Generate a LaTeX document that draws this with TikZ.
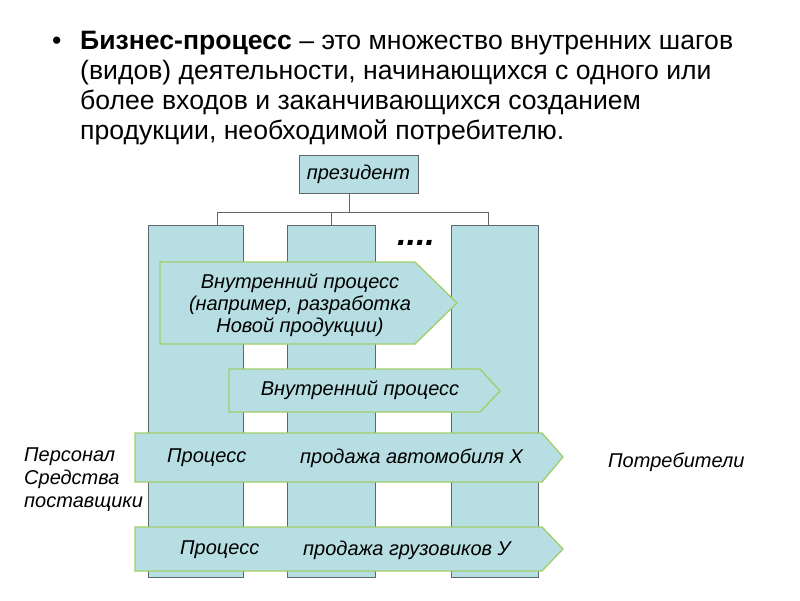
\documentclass[tikz,border=0pt]{standalone}
\usepackage{fontspec}
\setmainfont{Liberation Sans}
\definecolor{fillb}{RGB}{183,222,226}
\definecolor{arrowline}{RGB}{160,206,104}
\definecolor{colline}{RGB}{95,105,105}
\begin{document}
\begin{tikzpicture}[x=1pt,y=-1pt,
  colbox/.style={draw=colline,fill=fillb,line width=0.8pt,anchor=north west,inner sep=0pt,outer sep=0pt},
  presbox/.style={draw=colline,fill=fillb,line width=0.8pt,anchor=north west,inner sep=0pt,outer sep=0pt,
     minimum width=119pt,minimum height=38pt,font=\fontsize{20}{24}\selectfont\itshape},
  tree/.style={draw=colline,line width=0.6pt},
  procarrow/.style={fill=fillb,draw=arrowline,line width=1.3pt,line join=miter},
  ptext/.style={font=\fontsize{20}{22}\selectfont\itshape,inner sep=0pt,align=center},
  titletext/.style={font=\fontsize{26.6}{29}\selectfont,anchor=base west,inner sep=0pt}]
\useasboundingbox (0,0) rectangle (800,600);

% title
\node[titletext] (b0) at (52,49) {•};
\node[titletext] (t1) at (80,49) {\textbf{Бизнес-процесс} – это множество внутренних шагов};
\node[titletext] (t2) at (80,79) {(видов) деятельности, начинающихся с одного или};
\node[titletext] (t3) at (80,109) {более входов и заканчивающихся созданием};
\node[titletext] (t4) at (80,139) {продукции, необходимой потребителю.};

% president and tree
\node[presbox] (pres) at (299,155) {президент};
\node[colbox,minimum width=95pt,minimum height=352pt] (c1) at (148,225) {};
\node[colbox,minimum width=88pt,minimum height=352pt] (c2) at (287,225) {};
\node[colbox,minimum width=87pt,minimum height=352pt] (c3) at (451,225) {};
\coordinate (j0) at (349,212);
\coordinate (j1) at (217,212);
\coordinate (j2) at (331,212);
\coordinate (j3) at (488,212);
\draw[tree] (pres.south -| j0) -- (j0);
\draw[tree] (j1) -- (j3);
\draw[tree] (j1) -- (j1 |- c1.north);
\draw[tree] (j2) -- (j2 |- c2.north);
\draw[tree] (j3) -- (j3 |- c3.north);
\node[font=\fontsize{34}{34}\selectfont\bfseries\itshape,anchor=base,inner sep=0pt] (dots) at (416,245) {....};

% process arrows
\draw[procarrow] (160,262) -- (415,262) -- (457,303) -- (415,344) -- (160,344) -- cycle;
\node[ptext] (a1) at (300,305) {Внутренний процесс\\(например, разработка\\Новой продукции)};

\draw[procarrow] (229,369) -- (480,369) -- (500,391) -- (480,412) -- (229,412) -- cycle;
\node[ptext] (a2) at (360,390) {Внутренний процесс};

\draw[procarrow] (135,433) -- (542,433) -- (563,457) -- (542,482) -- (135,482) -- cycle;
\node[ptext,anchor=west] (a3a) at (167,458) {Процесс};
\node[ptext,anchor=west] (a3b) at (300,458) {продажа автомобиля Х};

\draw[procarrow] (135,527) -- (542,527) -- (563,549) -- (542,571) -- (135,571) -- cycle;
\node[ptext,anchor=west] (a4a) at (180,550) {Процесс};
\node[ptext,anchor=west] (a4b) at (303,550) {продажа грузовиков У};

% side labels
\node[font=\fontsize{20}{23}\selectfont\itshape,align=left,anchor=west,inner sep=0pt] (inp) at (24,480) {Персонал\\Средства\\поставщики};
\node[ptext,anchor=west] (out) at (608,462) {Потребители};
\end{tikzpicture}
\end{document}
